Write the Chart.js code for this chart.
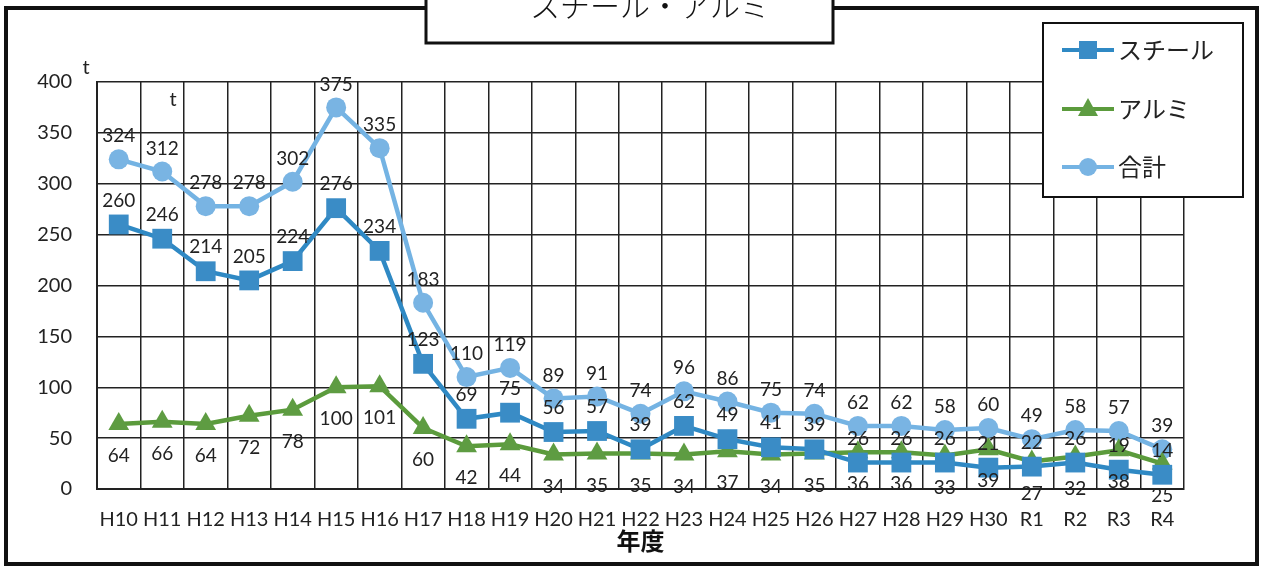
<!DOCTYPE html>
<html>
<head>
<meta charset="utf-8">
<script src="https://cdn.jsdelivr.net/npm/chart.js@4.4.0/dist/chart.umd.min.js"></script>
<style>
body { margin: 0; background: #fff; }
#wrap { position: relative; width: 1263px; height: 569px; }
</style>
</head>
<body>
<div id="wrap"><canvas id="chart" width="1263" height="569"></canvas></div>
<script>
// 年度
const years = ['H10','H11','H12','H13','H14','H15','H16','H17','H18','H19','H20','H21','H22','H23','H24','H25','H26','H27','H28','H29','H30','R1','R2','R3','R4'];
// t
const steel = [260,246,214,205,224,276,234,123,69,75,56,57,39,62,49,41,39,26,26,26,21,22,26,19,14];
const alumi = [64,66,64,72,78,100,101,60,42,44,34,35,35,34,37,34,35,36,36,33,39,27,32,38,25];
const total = [324,312,278,278,302,375,335,183,110,119,89,91,74,96,86,75,74,62,62,58,60,49,58,57,39];
const yTicks = [0,50,100,150,200,250,300,350,400];

const numFont = 'Lato, "DejaVu Sans", sans-serif';
const jpFont = '"Noto Sans CJK JP", sans-serif';

// where the value label sits relative to the point (px)
const labelOffsets = [-24, 32, -23];

const decor = {
  id: 'decor',
  beforeDraw(chart) {
    const ctx = chart.ctx;
    ctx.save();
    ctx.fillStyle = '#fff';
    ctx.fillRect(0, 0, chart.width, chart.height);
    ctx.restore();
  },
  afterDatasetsDraw(chart) {
    const ctx = chart.ctx;
    ctx.save();
    ctx.font = '19px ' + numFont;
    ctx.fillStyle = '#222';
    ctx.textAlign = 'center';
    ctx.textBaseline = 'middle';
    chart.data.datasets.forEach((ds, i) => {
      const meta = chart.getDatasetMeta(i);
      meta.data.forEach((pt, j) => {
        ctx.fillText(ds.data[j], pt.x, pt.y + labelOffsets[i]);
      });
    });
    ctx.restore();
  },
  afterDraw(chart) {
    const ctx = chart.ctx;
    ctx.save();
    // outer frame
    ctx.strokeStyle = '#111';
    ctx.lineWidth = 4;
    ctx.strokeRect(6, 8, 1251, 556);
    // title box
    ctx.fillStyle = '#fff';
    ctx.fillRect(426, -10, 407, 53);
    ctx.lineWidth = 3;
    ctx.strokeRect(426, -10, 407, 53);
    ctx.fillStyle = '#111';
    ctx.font = '300 30px ' + jpFont;
    ctx.textAlign = 'center';
    ctx.textBaseline = 'middle';
    ctx.fillText('スチール・アルミ', 650, 6);

    // unit labels
    ctx.font = '20px ' + numFont;
    ctx.fillStyle = '#222';
    ctx.fillText('t', 86, 68);
    ctx.fillText('t', 173, 100);

    // legend
    ctx.fillStyle = '#fff';
    ctx.fillRect(1043, 23, 200, 174);
    ctx.lineWidth = 2;
    ctx.strokeStyle = '#111';
    ctx.strokeRect(1043, 23, 200, 174);
    const rows = [50, 109, 167];
    ctx.textAlign = 'left';
    ctx.font = '24px ' + jpFont;
    chart.data.datasets.forEach((ds, i) => {
      const y = rows[i];
      ctx.strokeStyle = ds.borderColor;
      ctx.lineWidth = 4;
      ctx.beginPath();
      ctx.moveTo(1062, y);
      ctx.lineTo(1114, y);
      ctx.stroke();
      ctx.fillStyle = ds.backgroundColor;
      const cx = 1088;
      ctx.beginPath();
      if (ds.pointStyle === 'rect') {
        ctx.rect(cx - 9, y - 9, 18, 18);
      } else if (ds.pointStyle === 'triangle') {
        ctx.moveTo(cx, y - 11);
        ctx.lineTo(cx + 10, y + 7);
        ctx.lineTo(cx - 10, y + 7);
        ctx.closePath();
      } else {
        ctx.arc(cx, y, 9, 0, Math.PI * 2);
      }
      ctx.fill();
      ctx.fillStyle = '#222';
      ctx.fillText(ds.label, 1118, y);
    });
    ctx.restore();
  }
};

new Chart(document.getElementById('chart'), {
  type: 'line',
  data: {
    labels: years,
    datasets: [
      {
        label: 'スチール',
        data: steel,
        borderColor: '#2f89c4',
        backgroundColor: '#3a8cc6',
        pointStyle: 'rect',
        pointRadius: 14,
        borderWidth: 4.5,
        pointBorderWidth: 0,
        fill: false
      },
      {
        label: 'アルミ',
        data: alumi,
        borderColor: '#5b9b3c',
        backgroundColor: '#5e9c42',
        pointStyle: 'triangle',
        pointRadius: 12,
        borderWidth: 4.5,
        pointBorderWidth: 0,
        fill: false
      },
      {
        label: '合計',
        data: total,
        borderColor: '#74b3e3',
        backgroundColor: '#79b4e3',
        pointStyle: 'circle',
        pointRadius: 10,
        borderWidth: 4.5,
        pointBorderWidth: 0,
        fill: false
      }
    ]
  },
  options: {
    responsive: false,
    animation: false,
    devicePixelRatio: 1,
    layout: { padding: { top: 82, right: 79, bottom: 14, left: 0 } },
    plugins: {
      legend: { display: false },
      title: { display: false },
      tooltip: { enabled: false }
    },
    scales: {
      x: {
        type: 'category',
        offset: true,
        grid: { offset: true, color: '#222', lineWidth: 1.5, drawTicks: false },
        border: { color: '#222', width: 2 },
        ticks: { color: '#222', font: { size: 20, family: numFont }, padding: 19, maxRotation: 0, autoSkip: false },
        title: { display: true, text: '年度', color: '#111', font: { size: 24, weight: 'bold', family: jpFont }, padding: 0 },
        afterFit(scale) { scale.height = 66; }
      },
      y: {
        min: 0,
        max: 400,
        afterBuildTicks(scale) { scale.ticks = yTicks.map(v => ({ value: v })); },
        grid: { color: '#222', lineWidth: 1.5, drawTicks: false },
        border: { color: '#222', width: 2 },
        ticks: { color: '#222', font: { size: 20, family: numFont }, padding: 25 },
        afterFit(scale) { scale.width = 97; }
      }
    }
  },
  plugins: [decor]
});
</script>
</body>
</html>
